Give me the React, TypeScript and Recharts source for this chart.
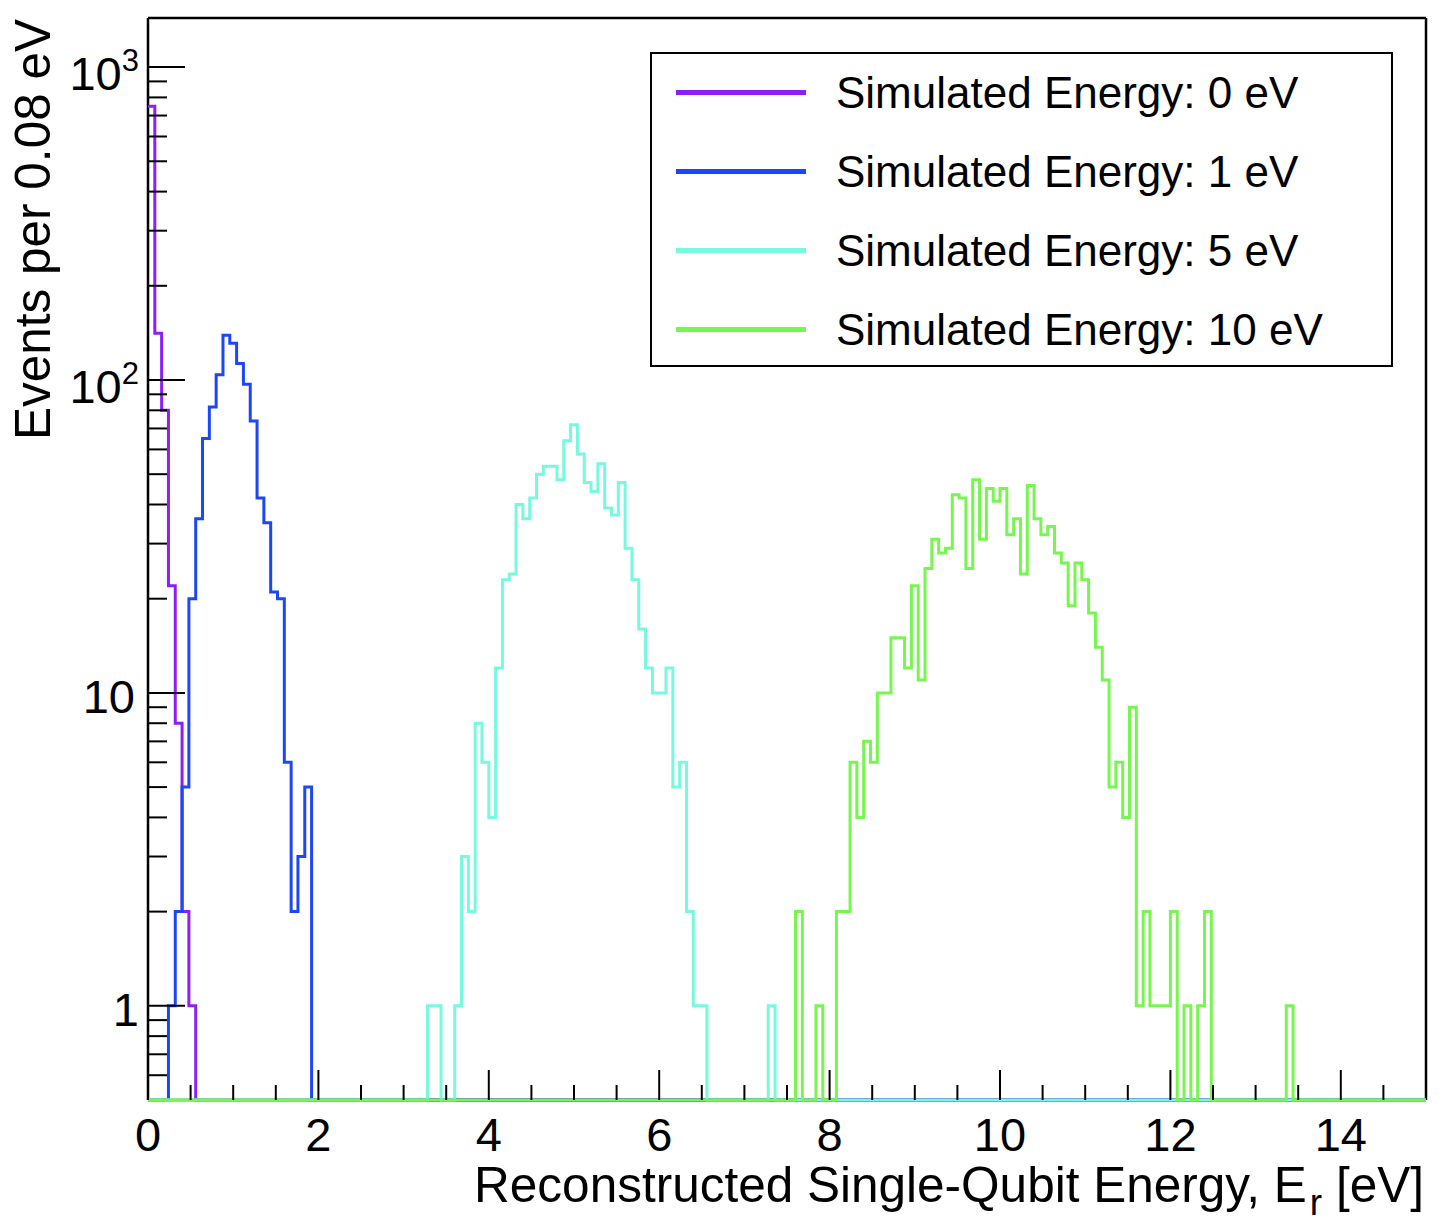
import { LineChart, Line, XAxis, YAxis, CartesianGrid, Legend } from "recharts"

const FONT = '"Liberation Sans", Arial, Helvetica, sans-serif'

const BIN = 0.08
const X_MAX = 15
const Y_MIN = 0.5
const Y_MAX = 1435

// counts per 0.08 eV bin, the first bin starts at the given energy
const start0 = 0
const counts0 = [750, 141, 80, 22, 8, 2, 1]

const start1 = 0.24
const counts1 = [1, 2, 5, 20, 36, 65, 82, 104, 139, 131, 113, 97, 74, 42, 35, 21, 20, 6, 2, 3, 5]

const start5 = 3.28
const counts5 = [
  1, 1, 0, 0, 1, 3, 2, 8, 6, 4, 12, 23, 24, 40, 36, 42, 50, 53, 53, 48, 64, 72, 58, 47, 44, 54,
  39, 37, 47, 29, 23, 16, 12, 10, 10, 12, 5, 6, 2, 1, 1, 0, 0, 0, 0, 0, 0, 0, 0, 0, 1,
]

const start10 = 7.6
const counts10 = [
  2, 0, 0, 1, 0, 0, 2, 2, 6, 4, 7, 6, 10, 10, 15, 15, 12, 22, 11, 25, 31, 28, 29, 43, 42, 25, 48,
  31, 45, 41, 45, 32, 36, 24, 46, 36, 32, 34, 28, 26, 19, 26, 23, 18, 14, 11, 5, 6, 4, 9, 1, 2, 1,
  1, 1, 2, 0, 1, 0, 1, 2, 0, 0, 0, 0, 0, 0, 0, 0, 0, 0, 0, 1,
]

const seriesNames = [
  "Simulated Energy: 0 eV",
  "Simulated Energy: 1 eV",
  "Simulated Energy: 5 eV",
  "Simulated Energy: 10 eV",
]
const colors = ["#8b1ff6", "#1f46f6", "#76f9df", "#76f64f"]

const xTicks = [
  0, 0.5, 1, 1.5, 2, 2.5, 3, 3.5, 4, 4.5, 5, 5.5, 6, 6.5, 7, 7.5, 8, 8.5, 9, 9.5, 10, 10.5, 11,
  11.5, 12, 12.5, 13, 13.5, 14, 14.5,
]
const xLabels = [0, 2, 4, 6, 8, 10, 12, 14]

const yTicks = [
  0.6, 0.7, 0.8, 0.9, 1, 2, 3, 4, 5, 6, 7, 8, 9, 10, 20, 30, 40, 50, 60, 70, 80, 90, 100, 200, 300,
  400, 500, 600, 700, 800, 900, 1000,
]
const yLabels: Record<number, [string, string]> = {
  1: ["1", ""],
  10: ["10", ""],
  100: ["10", "2"],
  1000: ["10", "3"],
}

// zero bins sit on the lower edge of the log axis, like ROOT draws them
function toSteps(start: number, counts: number[]) {
  const first = Math.round(start / BIN)
  const nBins = Math.ceil(X_MAX / BIN)
  const pts = []
  for (let k = 0; k < nBins; k++) {
    const i = k - first
    const n = i >= 0 && i < counts.length ? counts[i] : 0
    pts.push({ x: +(k * BIN).toFixed(2), y: Math.max(n, Y_MIN) })
  }
  pts.push({ x: X_MAX, y: Y_MIN })
  return pts
}

const series = [
  toSteps(start0, counts0),
  toSteps(start1, counts1),
  toSteps(start5, counts5),
  toSteps(start10, counts10),
]

function XTick({ x, y, payload }: any) {
  const v = payload.value
  const major = xLabels.includes(v)
  return (
    <g>
      <line x1={x} x2={x} y1={y} y2={y - (major ? 30 : 15)} stroke="#000" strokeWidth={2} />
      {major && (
        <text x={x} y={y + 51} textAnchor="middle" fontSize={47} fontFamily={FONT} fill="#000">
          {v}
        </text>
      )}
    </g>
  )
}

function YTick({ x, y, payload }: any) {
  const lab = yLabels[payload.value]
  let label = null
  if (lab) {
    const [base, exp] = lab
    if (exp) {
      label = (
        <text x={x - 9} y={y + 23} textAnchor="end" fontSize={47} fontFamily={FONT} fill="#000">
          {base}
          <tspan dy={-19} fontSize={31}>
            {exp}
          </tspan>
        </text>
      )
    } else {
      label = (
        <text
          x={base === "1" ? x - 9 : x - 13}
          y={y + 20}
          textAnchor="end"
          fontSize={47}
          fontFamily={FONT}
          fill="#000"
        >
          {base}
        </text>
      )
    }
  }
  return (
    <g>
      <line x1={x} x2={x + (lab ? 37 : 19)} y1={y} y2={y} stroke="#000" strokeWidth={2} />
      {label}
    </g>
  )
}

function LegendBox() {
  return (
    <div
      style={{
        position: "relative",
        boxSizing: "border-box",
        width: 743,
        height: 315,
        border: "2.5px solid #000",
        background: "#fff",
        fontFamily: FONT,
      }}
    >
      {seriesNames.map((name, i) => (
        <div key={name}>
          <div
            style={{
              position: "absolute",
              left: 24,
              top: 36 + i * 79,
              width: 130,
              height: 5,
              background: colors[i],
            }}
          />
          <div
            style={{
              position: "absolute",
              left: 184,
              top: 17 + i * 79,
              fontSize: 44,
              lineHeight: "44px",
              whiteSpace: "nowrap",
              color: "#000",
            }}
          >
            {name}
          </div>
        </div>
      ))}
    </div>
  )
}

export default function App() {
  return (
    <div style={{ position: "absolute", left: 0, top: 0, background: "#fff" }}>
      <LineChart width={1442} height={1226} margin={{ top: 18, right: 16, bottom: 0, left: 0 }}>
        <CartesianGrid
          horizontalPoints={[18, 1100]}
          verticalPoints={[148, 1426]}
          stroke="#000"
          strokeWidth={2.5}
          fill="none"
        />
        <XAxis
          dataKey="x"
          type="number"
          domain={[0, X_MAX]}
          ticks={xTicks}
          interval={0}
          height={126}
          axisLine={false}
          tickLine={false}
          tickSize={0}
          tickMargin={0}
          tick={XTick}
          label={{
            content: () => (
              <text x={1424} y={1202} textAnchor="end" fontSize={49.5} fontFamily={FONT} fill="#000">
                Reconstructed Single-Qubit Energy, E
                <tspan dx={3} dy={13} fontSize={37}>
                  r
                </tspan>
                <tspan dy={-13} fontSize={49.5}>
                  {" [eV]"}
                </tspan>
              </text>
            ),
          }}
        />
        <YAxis
          type="number"
          scale="log"
          domain={[Y_MIN, Y_MAX]}
          ticks={yTicks}
          interval={0}
          width={148}
          axisLine={false}
          tickLine={false}
          tickSize={0}
          tickMargin={0}
          tick={YTick}
          label={{
            content: () => (
              <text
                transform="rotate(-90)"
                x={-19}
                y={50}
                textAnchor="end"
                fontSize={49.5}
                fontFamily={FONT}
                fill="#000"
              >
                Events per 0.08 eV
              </text>
            ),
          }}
        />
        {series.map((pts, i) => (
          <Line
            key={seriesNames[i]}
            data={pts}
            dataKey="y"
            name={seriesNames[i]}
            type="stepAfter"
            stroke={colors[i]}
            strokeWidth={3}
            dot={false}
            activeDot={false}
            isAnimationActive={false}
          />
        ))}
        <Legend
          layout="vertical"
          align="center"
          verticalAlign="middle"
          wrapperStyle={{ left: 650, top: 52, width: 743, height: 315 }}
          content={() => <LegendBox />}
        />
      </LineChart>
    </div>
  )
}
